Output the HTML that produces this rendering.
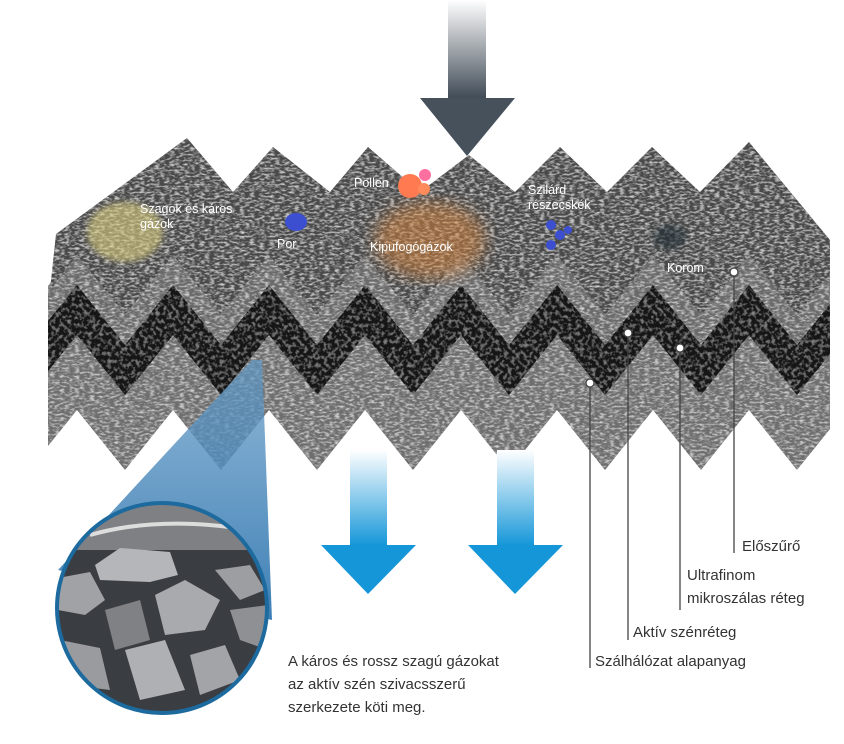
<!DOCTYPE html>
<html><head><meta charset="utf-8"><style>
html,body{margin:0;padding:0;background:#fff}
svg{display:block}
text{font-family:"Liberation Sans",sans-serif}
.w{fill:#fff;font-size:12.5px}
.l{fill:#333;font-size:15px}
</style></head><body>
<svg width="844" height="744" viewBox="0 0 844 744" xmlns="http://www.w3.org/2000/svg">
<defs>
<linearGradient id="ga" x1="0" y1="0" x2="0" y2="1"><stop offset="0" stop-color="#fff"/><stop offset="1" stop-color="#3f4a55"/></linearGradient>
<linearGradient id="gb" x1="0" y1="0" x2="0" y2="1"><stop offset="0" stop-color="#fff"/><stop offset="1" stop-color="#1496d8"/></linearGradient>
<linearGradient id="gt" x1="0" y1="0" x2="0" y2="1"><stop offset="0" stop-color="#5f97c4" stop-opacity="0.7"/><stop offset="1" stop-color="#3d7fb5"/></linearGradient>
<filter id="tex" x="0" y="0" width="100%" height="100%">
<feTurbulence type="fractalNoise" baseFrequency="0.2 0.5" numOctaves="2" seed="4"/>
<feColorMatrix type="matrix" values="0 0 0 0 0.85 0 0 0 0 0.85 0 0 0 0 0.85 1.8 0 0 0 -0.8"/>
<feComposite in2="SourceGraphic" operator="in" result="n"/>
<feMerge><feMergeNode in="SourceGraphic"/><feMergeNode in="n"/></feMerge>
</filter>
<filter id="texd" x="0" y="0" width="100%" height="100%">
<feTurbulence type="fractalNoise" baseFrequency="0.25" numOctaves="2" seed="7"/>
<feColorMatrix type="matrix" values="0 0 0 0 0.35 0 0 0 0 0.35 0 0 0 0 0.35 1.8 0 0 0 -0.85"/>
<feComposite in2="SourceGraphic" operator="in" result="n"/>
<feMerge><feMergeNode in="SourceGraphic"/><feMergeNode in="n"/></feMerge>
</filter>
<filter id="blur"><feGaussianBlur stdDeviation="8"/></filter>
<filter id="blur2"><feGaussianBlur stdDeviation="3"/></filter>
<clipPath id="cc"><circle cx="162" cy="608" r="105"/></clipPath>
</defs>

<g transform="translate(0,300)">
<polygon fill="#6e6e6e" filter="url(#tex)" points="48,36 77,0 125,60 173,0 221,60 269,0 317,60 365,0 413,60 461,0 509,60 557,0 605,60 653,0 701,60 749,0 797,60 830,19 830,129 797,170 749,110 701,170 653,110 605,170 557,110 509,170 461,110 413,170 365,110 317,170 269,110 221,170 173,110 125,170 77,110 48,146"/>
</g>
<g transform="translate(0,280)">
<polygon fill="#141414" filter="url(#texd)" points="48,36 77,0 125,60 173,0 221,60 269,0 317,60 365,0 413,60 461,0 509,60 557,0 605,60 653,0 701,60 749,0 797,60 830,19 830,74 797,115 749,55 701,115 653,55 605,115 557,55 509,115 461,55 413,115 365,55 317,115 269,55 221,115 173,55 125,115 77,55 48,91"/>
</g>
<g transform="translate(0,250)">
<polygon fill="#6a6a6a" filter="url(#tex)" points="48,36 77,0 125,60 173,0 221,60 269,0 317,60 365,0 413,60 461,0 509,60 557,0 605,60 653,0 701,60 749,0 797,60 830,19 830,54 797,95 749,35 701,95 653,35 605,95 557,35 509,95 461,35 413,95 365,35 317,95 269,35 221,95 173,35 125,95 77,35 48,71"/>
</g>
<polygon fill="#484848" filter="url(#tex)" points="56,234 187,138 233,192 273,147 330,192 368,147 420,192 469,155 515,192 560,147 607,192 652,147 700,192 749,142 797,200 830,240 830,274 797,315 749,255 701,315 653,255 605,315 557,255 509,315 461,255 413,315 365,255 317,315 269,255 221,315 173,255 125,315 77,255 50,290"/>

<ellipse cx="125" cy="232" rx="38" ry="30" fill="#d8cc80" opacity="0.6" filter="url(#blur2)"/>
<ellipse cx="430" cy="240" rx="55" ry="38" fill="#d8843a" opacity="0.5" filter="url(#blur)"/>
<ellipse cx="296" cy="222" rx="11" ry="9" fill="#3b4fd0"/>
<circle cx="410" cy="186" r="12" fill="#ff7a50"/>
<circle cx="425" cy="175" r="6" fill="#ff6fa0"/>
<circle cx="424" cy="189" r="6" fill="#ff8a5a"/>
<circle cx="551" cy="225" r="5" fill="#3b4fd0"/><circle cx="560" cy="235" r="5" fill="#3b4fd0"/><circle cx="568" cy="230" r="4" fill="#3b4fd0"/><circle cx="551" cy="245" r="5" fill="#3b4fd0"/>
<ellipse cx="670" cy="237" rx="16" ry="12" fill="#1a2a30" opacity="0.6" filter="url(#blur2)"/>

<text class="w" x="140" y="213">Szagok és káros</text>
<text class="w" x="140" y="228">gázok</text>
<text class="w" x="277" y="248">Por</text>
<text class="w" x="354" y="187">Pollen</text>
<text class="w" x="370" y="251">Kipufogógázok</text>
<text class="w" x="528" y="194">Szilárd</text>
<text class="w" x="528" y="209">részecskék</text>
<text class="w" x="667" y="272">Korom</text>

<rect x="448" y="0" width="38" height="99" fill="url(#ga)"/>
<polygon points="420,98 515,98 467,156" fill="#46515c"/>

<rect x="350" y="450" width="37" height="96" fill="url(#gb)"/>
<polygon points="321,545 416,545 368,594" fill="#1496d8"/>
<rect x="497" y="450" width="37" height="96" fill="url(#gb)"/>
<polygon points="468,545 563,545 515,594" fill="#1496d8"/>

<polygon points="252,360 262,360 272,620 58,570" fill="url(#gt)"/>
<g clip-path="url(#cc)">
<rect x="50" y="500" width="230" height="220" fill="#3a3d42"/>
<rect x="50" y="505" width="230" height="45" fill="#7e8084"/>
<path d="M90 535 Q160 515 250 530" stroke="#ddd" stroke-width="4" fill="none"/>
<polygon points="95,565 120,548 170,552 178,575 150,582 100,580" fill="#b4b6ba"/>
<polygon points="58,578 90,572 105,600 85,615 58,610" fill="#a0a2a6"/>
<polygon points="155,595 185,580 220,600 205,630 165,635" fill="#a8aaae"/>
<polygon points="215,570 250,565 265,590 240,600" fill="#9c9ea2"/>
<polygon points="105,610 140,600 150,640 115,650" fill="#7f8185"/>
<polygon points="125,650 165,640 185,690 140,700" fill="#aeb0b4"/>
<polygon points="60,640 100,648 110,690 70,685" fill="#999b9f"/>
<polygon points="190,655 225,645 240,680 200,695" fill="#a2a4a8"/>
<polygon points="230,610 268,605 268,650 240,640" fill="#8e9094"/>
</g>
<circle cx="162" cy="608" r="105" fill="none" stroke="#1d6a9e" stroke-width="4"/>

<g stroke="#444" stroke-width="1.3" fill="#fff">
<line x1="590" y1="387" x2="590" y2="668"/><circle cx="590" cy="383" r="4"/>
<line x1="628" y1="337" x2="628" y2="640"/><circle cx="628" cy="333" r="4"/>
<line x1="680" y1="352" x2="680" y2="610"/><circle cx="680" cy="348" r="4"/>
<line x1="734" y1="276" x2="734" y2="553"/><circle cx="734" cy="272" r="4"/>
</g>
<text class="l" x="742" y="551">Előszűrő</text>
<text class="l" x="687" y="580">Ultrafinom</text>
<text class="l" x="687" y="603">mikroszálas réteg</text>
<text class="l" x="633" y="637">Aktív szénréteg</text>
<text class="l" x="595" y="666">Szálhálózat alapanyag</text>

<text class="l" x="288" y="666">A káros és rossz szagú gázokat</text>
<text class="l" x="288" y="689">az aktív szén szivacsszerű</text>
<text class="l" x="288" y="712">szerkezete köti meg.</text>
</svg>
</body></html>
